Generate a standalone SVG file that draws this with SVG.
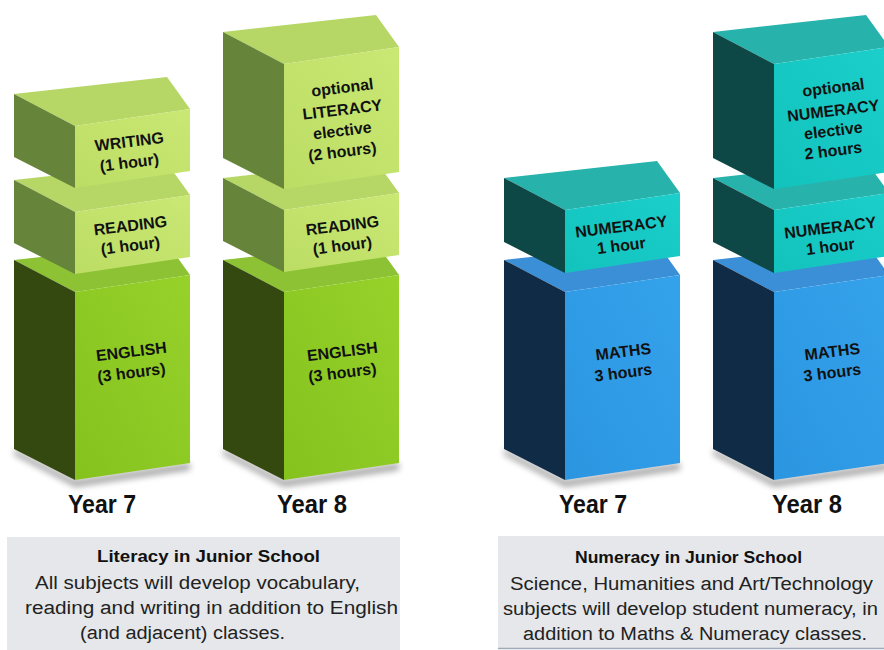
<svg xmlns="http://www.w3.org/2000/svg" width="884" height="650" viewBox="0 0 884 650">
<defs>
<linearGradient id="gF" x1="0" y1="1" x2="1" y2="0"><stop offset="0" stop-color="#bcdd64"/><stop offset="1" stop-color="#c9e874"/></linearGradient>
<linearGradient id="eF" x1="0" y1="1" x2="1" y2="0"><stop offset="0" stop-color="#86c21e"/><stop offset="1" stop-color="#96d22a"/></linearGradient>
<linearGradient id="tF" x1="0" y1="1" x2="1" y2="0"><stop offset="0" stop-color="#12c2bd"/><stop offset="1" stop-color="#1bcfca"/></linearGradient>
<linearGradient id="bF" x1="0" y1="1" x2="1" y2="0"><stop offset="0" stop-color="#2b95e0"/><stop offset="1" stop-color="#35a2ec"/></linearGradient>
<filter id="sh" x="-20%" y="-20%" width="140%" height="140%"><feGaussianBlur stdDeviation="3"/></filter>
</defs>
<style>
.gf{fill:url(#gF)} .gt{fill:#b6d766} .gl{fill:#66843a}
.ef{fill:url(#eF)} .et{fill:#8cc233} .el{fill:#34490f}
.tf{fill:url(#tF)} .tt{fill:#27b3ac} .tl{fill:#0e4846}
.bf{fill:url(#bF)} .bt{fill:#3a8fd6} .bl{fill:#0f2b46}
.shadow{fill:#000;opacity:0.35;filter:url(#sh)}
.lbl{font-family:"Liberation Sans",Arial,sans-serif;font-weight:bold;font-size:16px;fill:#111;text-anchor:middle}
.yr{font-family:"Liberation Sans",Arial,sans-serif;font-weight:bold;font-size:25px;fill:#111;text-anchor:middle}
.panel{fill:#e5e7ea}
.pt{font-family:"Liberation Sans",Arial,sans-serif;font-weight:bold;font-size:16px;fill:#111}
.pb{font-family:"Liberation Sans",Arial,sans-serif;font-size:18px;fill:#222}
</style>

<!-- shadows under bottom cubes -->
<g id="shadows">
<polygon class="shadow" points="14,449 75,480 190,463 190,470 75,487 14,455"/>
<polygon class="shadow" points="223,449 284,480 399,463 399,470 284,487 223,455"/>
<polygon class="shadow" points="504,449 565,480 680,463 680,470 565,487 504,455"/>
<polygon class="shadow" points="713,449 774,480 889,463 889,470 774,487 713,455"/>
</g>

<!-- Year 7 literacy stack -->
<g id="y7-english">
<polygon class="et" points="14,260 167,243 190,275 75,292"/>
<polygon class="el" points="14,260 75,292 75,480 14,449"/>
<polygon class="ef" points="75,292 190,275 190,463 75,480"/>
<text class="lbl" x="132" y="357" transform="rotate(-7 132 357)">ENGLISH</text>
<text class="lbl" x="132" y="378" transform="rotate(-7 132 378)">(3 hours)</text>
</g>
<g id="y7-reading">
<polygon class="gt" points="14,180 167,163 190,195 75,212"/>
<polygon class="gl" points="14,180 75,212 75,274 14,243"/>
<polygon class="gf" points="75,212 190,195 190,257 75,274"/>
<text class="lbl" x="131" y="231" transform="rotate(-7 131 231)">READING</text>
<text class="lbl" x="131" y="251" transform="rotate(-7 131 251)">(1 hour)</text>
</g>
<g id="y7-writing">
<polygon class="gt" points="14,94 167,77 190,109 75,126"/>
<polygon class="gl" points="14,94 75,126 75,188 14,157"/>
<polygon class="gf" points="75,126 190,109 190,171 75,188"/>
<text class="lbl" x="130" y="147" transform="rotate(-7 130 147)">WRITING</text>
<text class="lbl" x="130" y="168" transform="rotate(-7 130 168)">(1 hour)</text>
</g>

<!-- Year 8 literacy stack -->
<g id="y8-english">
<polygon class="et" points="223,260 376,243 399,275 284,292"/>
<polygon class="el" points="223,260 284,292 284,480 223,449"/>
<polygon class="ef" points="284,292 399,275 399,463 284,480"/>
<text class="lbl" x="343" y="357" transform="rotate(-7 343 357)">ENGLISH</text>
<text class="lbl" x="343" y="378" transform="rotate(-7 343 378)">(3 hours)</text>
</g>
<g id="y8-reading">
<polygon class="gt" points="223,178 376,161 399,193 284,210"/>
<polygon class="gl" points="223,178 284,210 284,272 223,241"/>
<polygon class="gf" points="284,210 399,193 399,255 284,272"/>
<text class="lbl" x="343" y="231" transform="rotate(-7 343 231)">READING</text>
<text class="lbl" x="343" y="251" transform="rotate(-7 343 251)">(1 hour)</text>
</g>
<g id="y8-literacy-elective">
<polygon class="gt" points="223,32 376,15 399,47 284,64"/>
<polygon class="gl" points="223,32 284,64 284,189 223,158"/>
<polygon class="gf" points="284,64 399,47 399,172 284,189"/>
<text class="lbl" x="343" y="93" transform="rotate(-7 343 93)">optional</text>
<text class="lbl" x="343" y="115" transform="rotate(-7 343 115)">LITERACY</text>
<text class="lbl" x="343" y="136" transform="rotate(-7 343 136)">elective</text>
<text class="lbl" x="343" y="157" transform="rotate(-7 343 157)">(2 hours)</text>
</g>

<!-- Year 7 numeracy stack -->
<g id="y7-maths">
<polygon class="bt" points="504,260 657,243 680,275 565,292"/>
<polygon class="bl" points="504,260 565,292 565,480 504,449"/>
<polygon class="bf" points="565,292 680,275 680,463 565,480"/>
<text class="lbl" x="624" y="357" transform="rotate(-7 624 357)">MATHS</text>
<text class="lbl" x="624" y="378" transform="rotate(-7 624 378)">3 hours</text>
</g>
<g id="y7-numeracy">
<polygon class="tt" points="504,178 657,161 680,193 565,210"/>
<polygon class="tl" points="504,178 565,210 565,273 504,242"/>
<polygon class="tf" points="565,210 680,193 680,256 565,273"/>
<text class="lbl" x="622" y="232" transform="rotate(-7 622 232)">NUMERACY</text>
<text class="lbl" x="622" y="251" transform="rotate(-7 622 251)">1 hour</text>
</g>

<!-- Year 8 numeracy stack -->
<g id="y8-maths">
<polygon class="bt" points="713,260 866,243 889,275 774,292"/>
<polygon class="bl" points="713,260 774,292 774,480 713,449"/>
<polygon class="bf" points="774,292 889,275 889,463 774,480"/>
<text class="lbl" x="833" y="357" transform="rotate(-7 833 357)">MATHS</text>
<text class="lbl" x="833" y="378" transform="rotate(-7 833 378)">3 hours</text>
</g>
<g id="y8-numeracy">
<polygon class="tt" points="713,178 866,161 889,193 774,210"/>
<polygon class="tl" points="713,178 774,210 774,273 713,242"/>
<polygon class="tf" points="774,210 889,193 889,256 774,273"/>
<text class="lbl" x="831" y="233" transform="rotate(-7 831 233)">NUMERACY</text>
<text class="lbl" x="831" y="252" transform="rotate(-7 831 252)">1 hour</text>
</g>
<g id="y8-numeracy-elective">
<polygon class="tt" points="713,32 866,15 889,47 774,64"/>
<polygon class="tl" points="713,32 774,64 774,189 713,158"/>
<polygon class="tf" points="774,64 889,47 889,172 774,189"/>
<text class="lbl" x="834" y="93" transform="rotate(-7 834 93)">optional</text>
<text class="lbl" x="834" y="116" transform="rotate(-7 834 116)">NUMERACY</text>
<text class="lbl" x="834" y="136" transform="rotate(-7 834 136)">elective</text>
<text class="lbl" x="834" y="156" transform="rotate(-7 834 156)">2 hours</text>
</g>

<!-- Year labels -->
<g id="year-labels">
<text class="yr" x="102" y="513" textLength="68" lengthAdjust="spacingAndGlyphs">Year 7</text>
<text class="yr" x="312" y="513" textLength="70" lengthAdjust="spacingAndGlyphs">Year 8</text>
<text class="yr" x="593" y="513" textLength="68" lengthAdjust="spacingAndGlyphs">Year 7</text>
<text class="yr" x="807" y="513" textLength="70" lengthAdjust="spacingAndGlyphs">Year 8</text>
</g>

<!-- Literacy panel -->
<g id="literacy-panel">
<rect class="panel" x="7" y="537" width="393" height="115"/>
<text class="pt" x="97" y="562" textLength="223" lengthAdjust="spacingAndGlyphs">Literacy in Junior School</text>
<text class="pb" x="35" y="589" textLength="325" lengthAdjust="spacingAndGlyphs">All subjects will develop vocabulary,</text>
<text class="pb" x="25" y="614" textLength="373" lengthAdjust="spacingAndGlyphs">reading and writing in addition to English</text>
<text class="pb" x="80" y="639" textLength="205" lengthAdjust="spacingAndGlyphs">(and adjacent) classes.</text>
</g>

<!-- Numeracy panel -->
<g id="numeracy-panel">
<rect class="panel" x="498" y="536" width="388" height="112"/>
<line x1="498" y1="648.5" x2="884" y2="648.5" stroke="#9eabb8" stroke-width="1.5"/>
<text class="pt" x="575" y="563" textLength="227" lengthAdjust="spacingAndGlyphs">Numeracy in Junior School</text>
<text class="pb" x="510" y="590" textLength="363" lengthAdjust="spacingAndGlyphs">Science, Humanities and Art/Technology</text>
<text class="pb" x="503" y="615" textLength="375" lengthAdjust="spacingAndGlyphs">subjects will develop student numeracy, in</text>
<text class="pb" x="523" y="640" textLength="344" lengthAdjust="spacingAndGlyphs">addition to Maths &amp; Numeracy classes.</text>
</g>
</svg>
